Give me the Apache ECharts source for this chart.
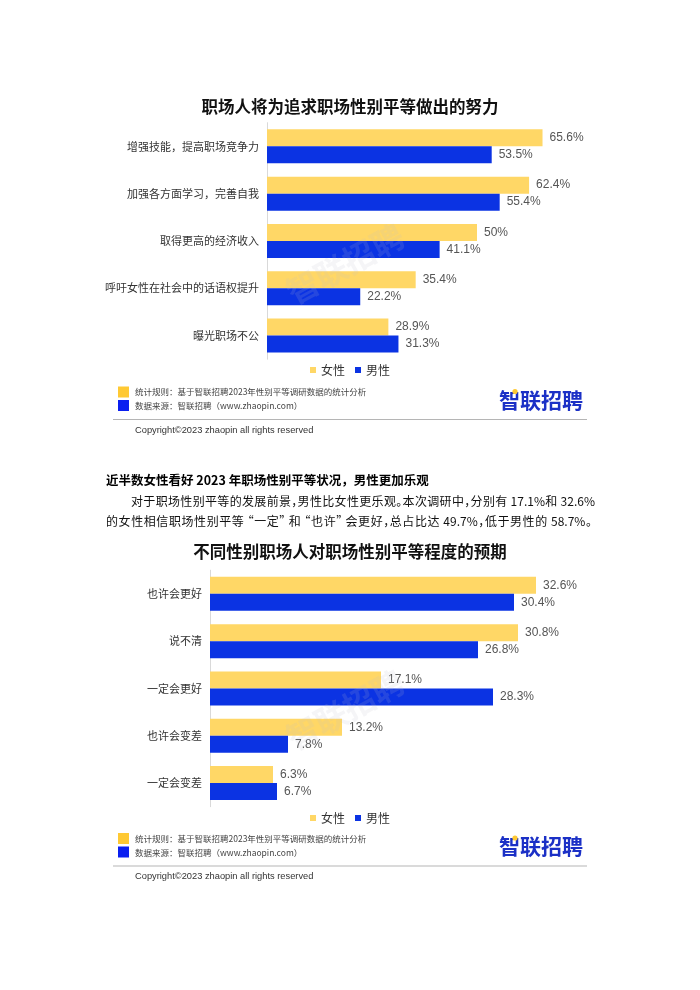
<!DOCTYPE html>
<html>
<head>
<meta charset="utf-8">
<script src="https://cdn.jsdelivr.net/npm/echarts@6/dist/echarts.min.js"></script>
<style>
  html, body { margin: 0; padding: 0; background: #fff; }
  #wrap { position: relative; width: 700px; height: 990px; }
  #chart { position: absolute; left: 0; top: 0; width: 700px; height: 990px; }
  .pline { position: absolute; font-family: "Noto Sans CJK SC", sans-serif; font-size: 12px; color: #111; white-space: nowrap; text-align: justify; text-align-last: justify; line-height: 16px; font-feature-settings: "halt"; }
  .phead { position: absolute; font-family: "Noto Sans CJK SC", sans-serif; font-size: 12.5px; font-weight: bold; color: #000; white-space: nowrap; line-height: 16px; }
</style>
</head>
<body>
<div id="wrap">
  <div id="chart"></div>
  <div class="phead" style="left:106px; top:472px;">近半数女性看好 2023 年职场性别平等状况，男性更加乐观</div>
  <div class="pline" style="left:131px; top:493px; width:464px;">对于职场性别平等的发展前景，男性比女性更乐观。本次调研中，分别有 17.1%和 32.6%</div>
  <div class="pline" style="left:106px; top:513px; width:486px;">的女性相信职场性别平等 “一定” 和 “也许” 会更好，总占比达 49.7%，低于男性的 58.7%。</div>
</div>
<script>
// ---- data ----
const title1 = '职场人将为追求职场性别平等做出的努力';
const categories1 = ['增强技能，提高职场竞争力', '加强各方面学习，完善自我', '取得更高的经济收入', '呼吁女性在社会中的话语权提升', '曝光职场不公'];
const female1 = [65.6, 62.4, 50, 35.4, 28.9];
const male1 = [53.5, 55.4, 41.1, 22.2, 31.3];

const title2 = '不同性别职场人对职场性别平等程度的预期';
const categories2 = ['也许会更好', '说不清', '一定会更好', '也许会变差', '一定会变差'];
const female2 = [32.6, 30.8, 17.1, 13.2, 6.3];
const male2 = [30.4, 26.8, 28.3, 7.8, 6.7];

const seriesNames = ['女性', '男性'];
const noteRule = '统计规则：基于智联招聘2023年性别平等调研数据的统计分析';
const noteSource = '数据来源：智联招聘（www.zhaopin.com）';
const copyright = 'Copyright©2023 zhaopin all rights reserved';
const logoText = '智联招聘';
const watermark = '智联招聘';

// ---- styles ----
const YELLOW = '#FFD766';
const BLUE = '#0B33E3';
const CJK = '"Noto Sans CJK SC", sans-serif';
const LAT = '"Liberation Sans", Arial, sans-serif';

const chart = echarts.init(document.getElementById('chart'), null, { renderer: 'canvas' });

function barSeries(name, data, color, idx) {
  return {
    name: name, type: 'bar', xAxisIndex: idx, yAxisIndex: idx, data: data,
    barWidth: 17, barGap: '0%',
    itemStyle: { color: color },
    label: { show: true, position: 'right', distance: 7, formatter: '{c}%', fontSize: 12, color: '#555', fontFamily: LAT },
    emphasis: { disabled: true }
  };
}

function yAx(cats, idx) {
  return {
    type: 'category', gridIndex: idx, data: cats, inverse: true,
    axisLine: { show: true, lineStyle: { color: '#d9d9d9', width: 1 } },
    axisTick: { show: false },
    axisLabel: { fontSize: 11, color: '#333', margin: 8, fontFamily: CJK }
  };
}
function xAx(max, idx) {
  return { type: 'value', gridIndex: idx, min: 0, max: max, show: false, splitLine: { show: false } };
}

function footer(y0) {
  return [
    { type: 'rect', shape: { x: 118, y: y0, width: 11, height: 11 }, style: { fill: '#FFC933' } },
    { type: 'rect', shape: { x: 118, y: y0 + 13.5, width: 11, height: 11 }, style: { fill: '#0A1FF0' } },
    { type: 'text', x: 135, y: y0 + 5.5, style: { text: noteRule, font: '8.5px ' + CJK, fill: '#444', textVerticalAlign: 'middle' } },
    { type: 'text', x: 135, y: y0 + 19.5, style: { text: noteSource, font: '8.5px ' + CJK, fill: '#444', textVerticalAlign: 'middle' } },
    { type: 'text', x: 499, y: y0 + 13.5, style: { text: logoText, font: 'bold 21px ' + CJK, fill: '#1B30C6', textVerticalAlign: 'middle' } },
    { type: 'circle', shape: { cx: 515, cy: y0 + 5, r: 2.6 }, style: { fill: '#FFC933' } },
    { type: 'line', shape: { x1: 113, y1: y0 + 33, x2: 587, y2: y0 + 33 }, style: { stroke: '#b5b5b5', lineWidth: 1 } },
    { type: 'text', x: 135, y: y0 + 43.5, style: { text: copyright, font: '9.3px ' + LAT, fill: '#333', textVerticalAlign: 'middle' } }
  ];
}

const option = {
  backgroundColor: '#fff',
  animation: false,
  title: [
    { text: title1, left: 'center', top: 93, textStyle: { fontSize: 16.5, fontWeight: 'bold', color: '#111', fontFamily: CJK } },
    { text: title2, left: 'center', top: 538, textStyle: { fontSize: 16.5, fontWeight: 'bold', color: '#111', fontFamily: CJK } }
  ],
  legend: [
    { data: seriesNames, left: 'center', top: 359, icon: 'rect', itemWidth: 6, itemHeight: 6, itemGap: 10, textStyle: { fontSize: 12, color: '#333', fontFamily: CJK }, selectedMode: false },
    { data: seriesNames, left: 'center', top: 807, icon: 'rect', itemWidth: 6, itemHeight: 6, itemGap: 10, textStyle: { fontSize: 12, color: '#333', fontFamily: CJK }, selectedMode: false }
  ],
  grid: [
    { left: 267, top: 122.7, width: 336, height: 236.5 },
    { left: 210, top: 570.2, width: 400, height: 236.5 }
  ],
  xAxis: [xAx(80, 0), xAx(40, 1)],
  yAxis: [yAx(categories1, 0), yAx(categories2, 1)],
  series: [
    barSeries(seriesNames[0], female1, YELLOW, 0),
    barSeries(seriesNames[1], male1, BLUE, 0),
    barSeries(seriesNames[0], female2, YELLOW, 1),
    barSeries(seriesNames[1], male2, BLUE, 1)
  ],
  graphic: [
    { type: 'text', x: 345, y: 264, rotation: 0.5, style: { text: watermark, font: 'bold 32px ' + CJK, fill: 'rgba(190,190,200,0.15)', textAlign: 'center', textVerticalAlign: 'middle' }, z: 10 },
    { type: 'text', x: 345, y: 710, rotation: 0.5, style: { text: watermark, font: 'bold 32px ' + CJK, fill: 'rgba(190,190,200,0.15)', textAlign: 'center', textVerticalAlign: 'middle' }, z: 10 }
  ].concat(footer(386.5)).concat(footer(833))
};
chart.setOption(option);
</script>
</body>
</html>
